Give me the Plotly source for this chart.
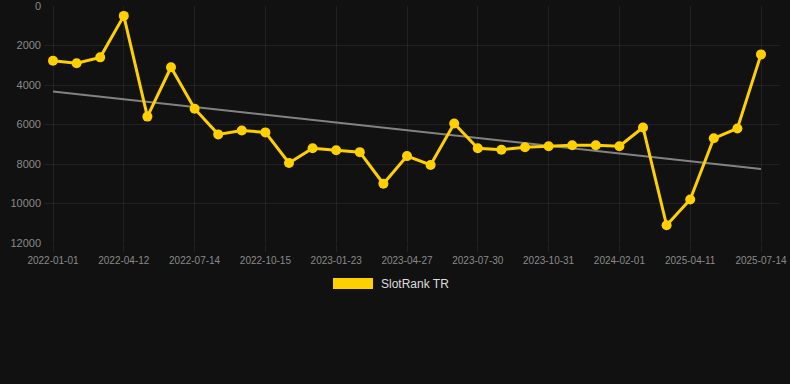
import plotly.graph_objects as go

dates = [
    "2022-01-01", "2022-02-05", "2022-03-09", "2022-04-12", "2022-05-15", "2022-06-12",
    "2022-07-14", "2022-08-16", "2022-09-15", "2022-10-15", "2022-11-20", "2022-12-20",
    "2023-01-23", "2023-02-25", "2023-03-28", "2023-04-27", "2023-05-30", "2023-06-28",
    "2023-07-30", "2023-08-30", "2023-09-30", "2023-10-31", "2023-11-30", "2023-12-31",
    "2024-02-01", "2024-06-15", "2024-11-10", "2025-04-11", "2025-05-12", "2025-06-12",
    "2025-07-14",
]
rank = [
    2770, 2900, 2600, 500, 5600, 3100,
    5200, 6500, 6300, 6400, 7950, 7200,
    7300, 7400, 9000, 7600, 8050, 5950,
    7200, 7280, 7150, 7100, 7050, 7050,
    7100, 6150, 11100, 9800, 6700, 6200,
    2450,
]
trend_x = [dates[0], dates[-1]]
trend_y = [4330, 8250]
tick_labels = [
    "2022-01-01", "2022-04-12", "2022-07-14", "2022-10-15", "2023-01-23",
    "2023-04-27", "2023-07-30", "2023-10-31", "2024-02-01", "2025-04-11", "2025-07-14",
]
y_ticks = [0, 2000, 4000, 6000, 8000, 10000, 12000]
y_tick_text = ["0", "2000", "4000", "6000", "8000", "10000", "12000"]
series_name = "SlotRank TR"

GOLD = "#FFD000"
BG = "#111111"
GRID = "rgba(255,255,255,0.07)"
TICKC = "#8a8a8a"

fig = go.Figure()
fig.add_trace(go.Scatter(
    x=trend_x, y=trend_y, mode="lines",
    line=dict(color="rgba(150,150,150,0.85)", width=2),
    showlegend=False, hoverinfo="skip",
))
fig.add_trace(go.Scatter(
    x=dates, y=rank, mode="lines+markers", name=series_name,
    line=dict(color=GOLD, width=3),
    marker=dict(color=GOLD, size=10),
    showlegend=False,
))

W, H = 790, 384
L, R, T, B = 44, 10, 6, 141
pw = W - L - R
ph = H - T - B
step = (761 - 53) / 30
xmin = -(53 - L) / step
xmax = 30 + ((W - R) - 761) / step

def px_x(p):
    return (p - L) / pw

def px_y(p):
    return (H - B - p) / ph

fig.add_shape(type="rect", xref="paper", yref="paper",
              x0=px_x(333), x1=px_x(373), y0=px_y(289), y1=px_y(278),
              fillcolor=GOLD, line=dict(width=0))
fig.add_annotation(xref="paper", yref="paper", x=px_x(379), y=px_y(284),
                   text=series_name, showarrow=False, xanchor="left", yanchor="middle",
                   font=dict(family="Arial", size=12, color="#dddddd"))

fig.update_layout(
    width=W, height=H,
    margin=dict(l=L, r=R, t=T, b=B, autoexpand=False),
    paper_bgcolor=BG, plot_bgcolor=BG,
    font=dict(family="Arial", size=11, color=TICKC),
    showlegend=False,
    xaxis=dict(
        type="category", categoryorder="array", categoryarray=dates,
        range=[xmin, xmax],
        tickmode="array", tickvals=tick_labels, ticktext=tick_labels,
        tickangle=0, automargin=False,
        showgrid=True, gridcolor=GRID, gridwidth=1,
        zeroline=False, showline=False,
        ticks="outside", ticklen=8, tickcolor=GRID,
        tickfont=dict(size=10, color=TICKC),
        ticklabeloverflow="allow",
    ),
    yaxis=dict(
        range=[12000, 0], tickmode="array", tickvals=y_ticks, ticktext=y_tick_text,
        automargin=False,
        showgrid=True, gridcolor=GRID, gridwidth=1,
        zeroline=False, showline=False,
        ticks="", ticklabelstandoff=2,
        tickfont=dict(size=11, color=TICKC),
        ticklabeloverflow="allow",
    ),
)

fig.write_html(
    "out.html",
    config={"displayModeBar": False},
    post_script="document.body.style.margin='0';document.body.style.background='#111111';",
)
